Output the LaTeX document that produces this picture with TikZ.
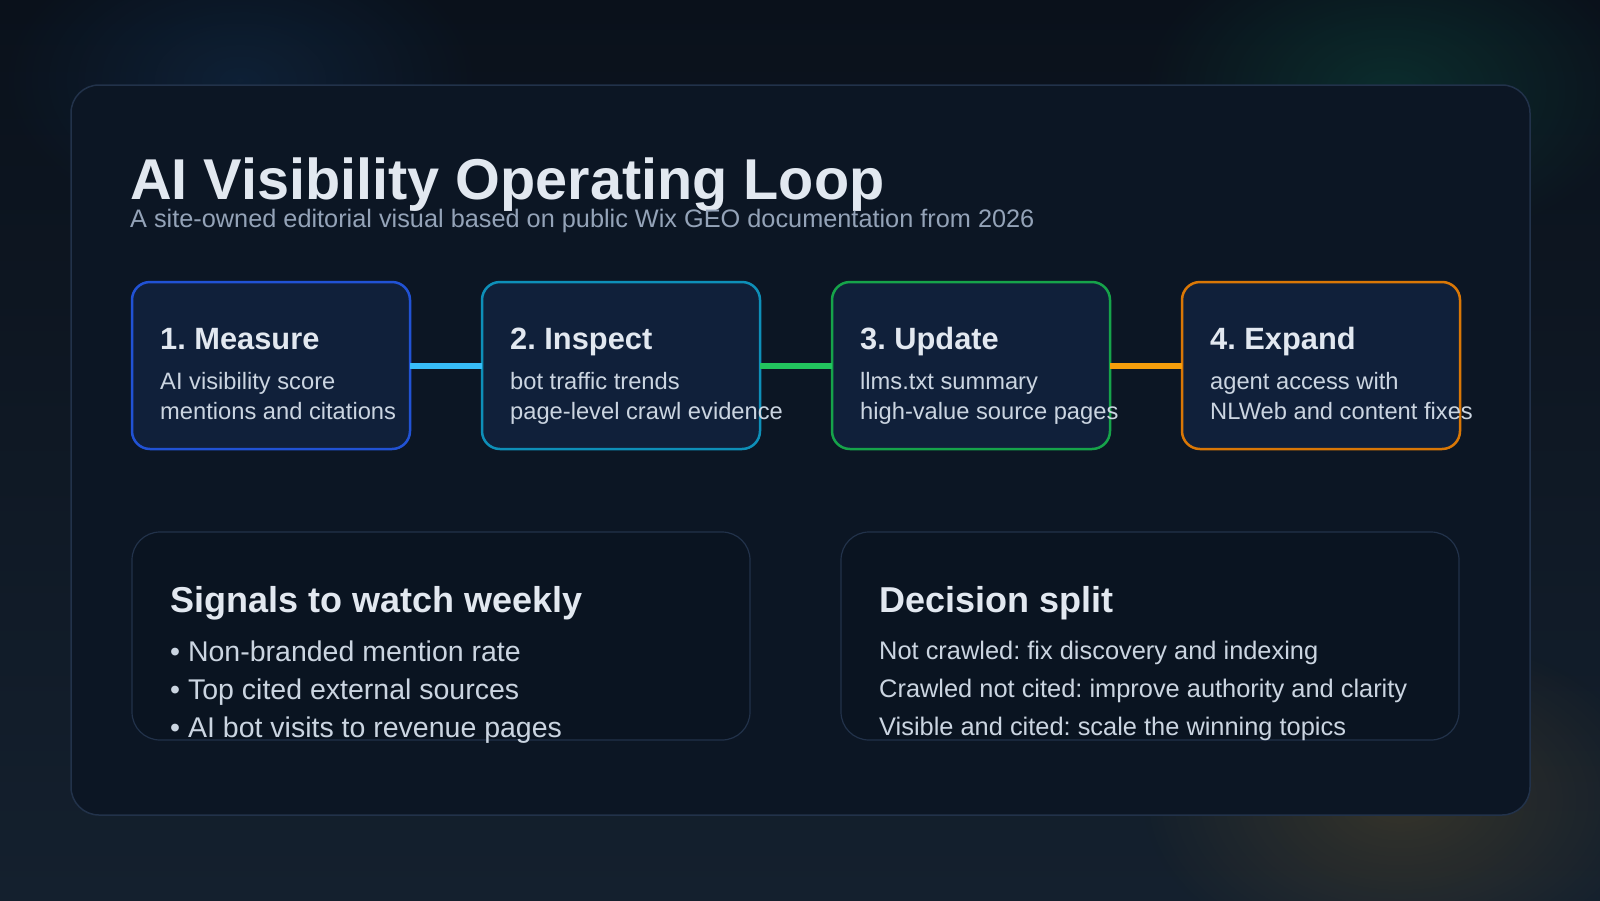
\documentclass[tikz,border=0pt]{standalone}
\usepackage{fontspec}
\setmainfont{Liberation Sans}
\usetikzlibrary{positioning, fadings, calc}
\frenchspacing

\definecolor{bgtop}{HTML}{0A111B}
\definecolor{bgbot}{HTML}{14202E}
\definecolor{panelfill}{HTML}{0C1624}
\definecolor{panelline}{HTML}{22324A}
\definecolor{stepfill}{HTML}{10203A}
\definecolor{cardfill}{HTML}{0A1421}
\definecolor{titletext}{HTML}{E2E8F0}
\definecolor{subtext}{HTML}{94A3B8}
\definecolor{bodytext}{HTML}{CBD5E1}
\definecolor{measureline}{HTML}{2152D4}
\definecolor{inspectline}{HTML}{0E8FB8}
\definecolor{updateline}{HTML}{16A34A}
\definecolor{expandline}{HTML}{D97706}
\definecolor{linkblue}{HTML}{38BDF8}
\definecolor{linkgreen}{HTML}{22C55E}
\definecolor{linkorange}{HTML}{F59E0B}
\definecolor{glowblue}{HTML}{1E6AB8}
\definecolor{glowgreen}{HTML}{10B981}
\definecolor{glowamber}{HTML}{E8A020}

\tikzfading[name=glowfade, inner color=transparent!0,
    outer color=transparent!100]

\newcommand{\fsz}[2]{\fontsize{#1}{#2}\selectfont}

\tikzset{
    stepbox/.style={
        draw=#1, line width=2.5pt, fill=stepfill, rounded corners=18pt,
        minimum width=278pt, minimum height=167pt, inner sep=0pt, outer sep=0pt
    },
    card/.style={
        draw=panelline, line width=1.2pt, fill=cardfill, rounded corners=28pt,
        minimum width=618pt, minimum height=208pt, inner sep=0pt, outer sep=0pt
    },
    steptitle/.style={anchor=base west, inner sep=0pt, text=titletext,
        font=\bfseries\fsz{30.8}{36}},
    % base of a two-line node sits on its last line
    stepbody/.style={anchor=base west, inner sep=0pt, text=bodytext,
        align=left, font=\fsz{23.7}{30}},
    cardtitle/.style={anchor=base west, inner sep=0pt, text=titletext,
        font=\bfseries\fsz{36}{40}},
    cardbody/.style={anchor=base west, inner sep=0pt, text=bodytext,
        align=left, font=\fsz{#1}{38}},
    link/.style={draw=#1, line width=6pt},
    glow/.style={fill=#1, path fading=glowfade, opacity=0.16},
}

\begin{document}
\begin{tikzpicture}[x=1pt, y=-1pt]
    \useasboundingbox (0,0) rectangle (1600,900);

    % backdrop and soft glows
    \shade[top color=bgtop, bottom color=bgbot] (0,0) rectangle (1600,900);
    \fill[glow=glowblue] (240,80) ellipse (240 and 150);
    \fill[glow=glowgreen] (1390,90) ellipse (250 and 160);
    \fill[glow=glowamber] (1400,800) ellipse (260 and 170);

    % main panel
    \draw[draw=panelline, line width=1.5pt, fill=panelfill,
        rounded corners=28pt] (71,85) rectangle (1530,815);

    \node[anchor=base west, inner sep=0pt, text=titletext,
        font=\bfseries\fsz{57.6}{64}] (title) at (130,199)
        {AI Visibility Operating Loop};
    \node[anchor=base west, inner sep=0pt, text=subtext,
        font=\fsz{25.3}{28}] (subtitle) at (130,227)
        {A site-owned editorial visual based on public Wix GEO documentation from 2026};

    % the four steps
    \node[stepbox=measureline, anchor=north west] (measure) at (132,282) {};
    \node[stepbox=inspectline, right=72pt of measure] (inspect) {};
    \node[stepbox=updateline, right=72pt of inspect] (update) {};
    \node[stepbox=expandline, right=72pt of update] (expand) {};

    \draw[link=linkblue] (measure.east) -- (inspect.west);
    \draw[link=linkgreen] (inspect.east) -- (update.west);
    \draw[link=linkorange] (update.east) -- (expand.west);

    \node[steptitle] (measuret) at ($(measure.north west)+(28,67)$) {1. Measure};
    \node[stepbody] (measureb) at ($(measure.north west)+(28,137)$)
        {AI visibility score\\mentions and citations};
    \node[steptitle] (inspectt) at ($(inspect.north west)+(28,67)$) {2. Inspect};
    \node[stepbody] (inspectb) at ($(inspect.north west)+(28,137)$)
        {bot traffic trends\\page-level crawl evidence};
    \node[steptitle] (updatet) at ($(update.north west)+(28,67)$) {3. Update};
    \node[stepbody] (updateb) at ($(update.north west)+(28,137)$)
        {llms.txt summary\\high-value source pages};
    \node[steptitle] (expandt) at ($(expand.north west)+(28,67)$) {4. Expand};
    \node[stepbody] (expandb) at ($(expand.north west)+(28,137)$)
        {agent access with\\NLWeb and content fixes};

    % lower cards
    \node[card, anchor=north west] (signals) at (132,532) {};
    \node[card, right=91pt of signals] (decision) {};

    \node[cardtitle] (signalst) at ($(signals.north west)+(38,80)$)
        {Signals to watch weekly};
    \node[cardbody=28.5] (signalsb) at ($(signals.north west)+(38,205)$)
        {• Non-branded mention rate\\• Top cited external sources\\• AI bot visits to revenue pages};
    \node[cardtitle] (decisiont) at ($(decision.north west)+(38,80)$)
        {Decision split};
    \node[cardbody=25.4] (decisionb) at ($(decision.north west)+(38,203)$)
        {Not crawled: fix discovery and indexing\\Crawled not cited: improve authority and clarity\\Visible and cited: scale the winning topics};
\end{tikzpicture}
\end{document}
